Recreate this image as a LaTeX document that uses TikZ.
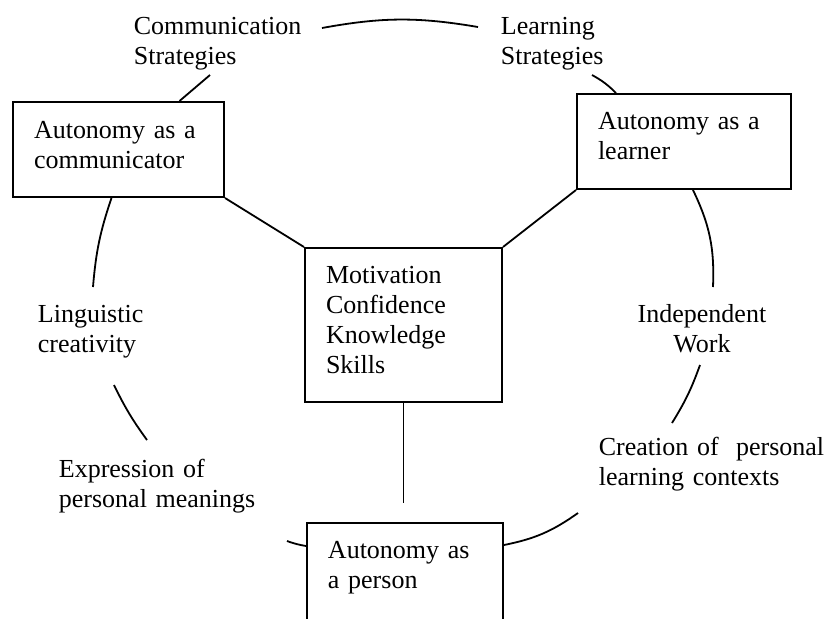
\documentclass[tikz,border=0pt]{standalone}
\usepackage{fontspec}
\setmainfont{Liberation Serif}
\usepackage{tikz}

\begin{document}
\begin{tikzpicture}[x=.5pt, y=-.5pt, line width=.9pt,
  every node/.style={font=\fontsize{13}{15}\selectfont, inner sep=0pt},
  txt/.style={anchor=base west, text width=130pt, align=left},
  boxed/.style={draw, line width=1pt, anchor=north west, inner xsep=10.5pt, inner ysep=0pt, text height=17.5pt, align=left}]
  \useasboundingbox (0,0) rectangle (827,618);
  \clip (0,0) rectangle (827,618);
  \node [boxed, text width=84.5pt, text height=18pt, text depth=29.5pt] (comm) at (12,101) {Autonomy as a\\communicator};
  \node [boxed, text width=86pt, text depth=30pt] (learner) at (576,93) {Autonomy as a\\learner};
  \node [boxed, text width=77.5pt, text depth=59.5pt] (core) at (304,247) {Motivation\\Confidence\\Knowledge\\Skills};
  \node [boxed, text width=77pt, text depth=50pt] (person) at (306,522) {Autonomy as\\a person};
  \node [txt] (comstrat) at (133,34) {Communication\\Strategies};
  \node [txt] (learnstrat) at (500,34) {Learning\\Strategies};
  \node [txt] (ling) at (37,322) {Linguistic\\creativity};
  \node [txt] (expr) at (58,477) {Expression of\\personal meanings};
  \node [txt, anchor=base, align=center, text width=80pt] (indep) at (702,322) {Independent\\Work};
  \node [txt] (creat) at (598,455) {Creation of\ \ personal\\learning contexts};
  % free ends of the ring
  \coordinate (c1) at (322,28);
  \coordinate (c2) at (478,27);
  \coordinate (c3) at (210,75);
  \coordinate (c4) at (592,75);
  \coordinate (c5) at (93,287);
  \coordinate (c6) at (713,287);
  \coordinate (c7) at (114,385);
  \coordinate (c8) at (147,440);
  \coordinate (c9) at (700,365);
  \coordinate (c10) at (672,423);
  \coordinate (c11) at (287,541);
  \coordinate (c12) at (578,513);
  \draw (c1) to[bend left=10] (c2);
  \draw (c3) -- ([xshift=30.5pt]comm.north);
  \draw (c4) to[bend left=8] ([xshift=-34pt]learner.north);
  \draw ([xshift=-3.5pt]comm.south) to[bend right=7] (c5);
  \draw ([xshift=4.5pt]learner.south) to[bend left=14] (c6);
  \draw (c7) to[bend right=5] (c8);
  \draw (c9) to[bend left=6] (c10);
  \draw (c11) to[bend right=5] ([yshift=-12pt]person.north west);
  \draw ([yshift=-11.5pt]person.north east) to[bend right=12] (c12);
  % spokes
  \draw (comm.south east) -- (core.north west);
  \draw (learner.south west) -- (core.north east);
  \draw [shorten >=9.5pt] (core.south) -- (core.south |- person.north);
\end{tikzpicture}
\end{document}
